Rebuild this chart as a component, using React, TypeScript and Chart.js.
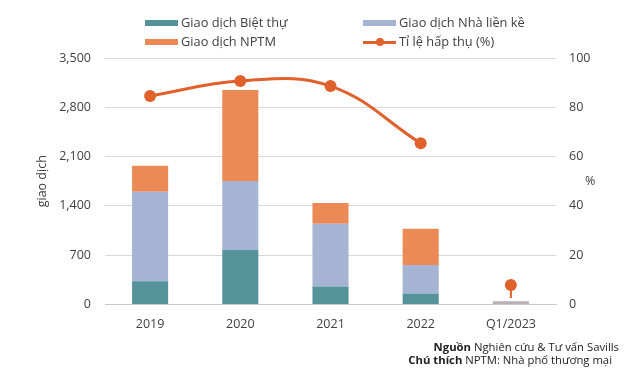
import React, { useEffect, useRef } from "react";
import { Chart, registerables } from "chart.js";

Chart.register(...registerables);

const categories = ["2019", "2020", "2021", "2022", "Q1/2023"];
const villaDeals = [330, 775, 255, 155, 0];
const townhouseDeals = [1270, 980, 890, 405, 45];
const shophouseDeals = [370, 1290, 295, 515, 0];
const absorptionLine = [84.6, 90.7, 88.6, 65.4, null];
const absorptionQ1 = [null, null, null, null, 7.9];
const leftMax = 3500;
const leftStep = 700;
const rightMax = 100;
const rightStep = 20;

const TEAL = "#55939a";
const BLUE = "#a4b4d2";
const ORANGE = "#ec8a55";
const LINE = "#e0612b";
const GRAY_BAR = "#b9b0b5";
const TEXT = "#404040";
const FONT = "'Open Sans', 'Noto Sans', sans-serif";

const pinStem = {
  id: "pinStem",
  afterDatasetsDraw(chart: any) {
    const idx = chart.data.datasets.findIndex((d: any) => d.label === "q1pin");
    if (idx < 0) return;
    const meta = chart.getDatasetMeta(idx);
    const ctx = chart.ctx;
    meta.data.forEach((pt: any, i: number) => {
      if (absorptionQ1[i] == null) return;
      const { x, y } = pt.getProps(["x", "y"], true);
      ctx.save();
      ctx.strokeStyle = LINE;
      ctx.lineWidth = 2;
      ctx.beginPath();
      ctx.moveTo(x, y + 4);
      ctx.lineTo(x, y + 13);
      ctx.stroke();
      ctx.restore();
    });
  },
};

export default function App() {
  const ref = useRef<HTMLCanvasElement | null>(null);

  useEffect(() => {
    document.body.style.margin = "0";
    if (!ref.current) return;
    const chart = new Chart(ref.current, {
      type: "bar",
      data: {
        labels: categories,
        datasets: [
          {
            type: "line",
            label: "Tỉ lệ hấp thụ (%)",
            data: absorptionLine,
            yAxisID: "y1",
            borderColor: LINE,
            backgroundColor: LINE,
            borderWidth: 3,
            pointRadius: 6,
            pointHoverRadius: 6,
            pointBackgroundColor: LINE,
            pointBorderWidth: 0,
            tension: 0.4,
            spanGaps: false,
            order: 0,
          } as any,
          {
            type: "line",
            label: "q1pin",
            data: absorptionQ1,
            yAxisID: "y1",
            borderColor: LINE,
            backgroundColor: LINE,
            borderWidth: 0,
            showLine: false,
            pointRadius: 6,
            pointBackgroundColor: LINE,
            pointBorderWidth: 0,
            order: 0,
          } as any,
          {
            label: "Giao dịch Biệt thự",
            data: villaDeals,
            backgroundColor: TEAL,
            yAxisID: "y",
            stack: "s",
            order: 1,
          },
          {
            label: "Giao dịch Nhà liền kề",
            data: townhouseDeals,
            backgroundColor: categories.map((c) => (c.startsWith("Q") ? GRAY_BAR : BLUE)),
            yAxisID: "y",
            stack: "s",
            order: 1,
          },
          {
            label: "Giao dịch NPTM",
            data: shophouseDeals,
            backgroundColor: ORANGE,
            yAxisID: "y",
            stack: "s",
            order: 1,
          },
        ],
      },
      options: {
        animation: false,
        responsive: false,
        maintainAspectRatio: false,
        layout: { padding: { top: 58, bottom: 0, left: 0, right: 0 } },
        datasets: { bar: { barPercentage: 0.4, categoryPercentage: 1 } } as any,
        plugins: {
          legend: { display: false },
          tooltip: { enabled: false },
        },
        scales: {
          x: {
            stacked: true,
            grid: { display: false, drawTicks: false },
            border: { display: true, color: "#c8c8c8", width: 1 },
            ticks: { color: TEXT, font: { family: FONT, size: 12.5 }, padding: 12 },
            afterFit: (s: any) => {
              s.height = 66.5;
            },
          },
          y: {
            stacked: true,
            position: "left",
            min: 0,
            max: leftMax,
            ticks: {
              stepSize: leftStep,
              color: TEXT,
              font: { family: FONT, size: 12.5 },
              padding: 14,
              callback: (v: any) => Number(v).toLocaleString("en-US"),
            },
            grid: { color: "#d9d9d9", lineWidth: 1, drawTicks: false },
            border: { display: false },
            title: {
              display: true,
              text: "giao dịch",
              color: TEXT,
              font: { family: FONT, size: 12.5 },
              padding: { top: 35, bottom: 0 },
            },
            afterFit: (s: any) => {
              s.width = 105;
            },
          },
          y1: {
            position: "right",
            min: 0,
            max: rightMax,
            ticks: {
              stepSize: rightStep,
              color: TEXT,
              font: { family: FONT, size: 12.5 },
              padding: 13,
            },
            grid: { display: false, drawTicks: false },
            border: { display: false },
            afterFit: (s: any) => {
              s.width = 77;
            },
          },
        },
      } as any,
      plugins: [pinStem],
    });
    return () => chart.destroy();
  }, []);

  const legendText: React.CSSProperties = {
    position: "absolute",
    fontFamily: FONT,
    fontSize: 12.8,
    color: TEXT,
    lineHeight: "16px",
    whiteSpace: "nowrap",
  };
  const box = (x: number, y: number, color: string): React.CSSProperties => ({
    position: "absolute",
    left: x,
    top: y,
    width: 33,
    height: 6,
    background: color,
  });
  const foot: React.CSSProperties = {
    position: "absolute",
    fontFamily: FONT,
    fontSize: 11.3,
    lineHeight: "13px",
    color: "#222",
    whiteSpace: "nowrap",
  };

  return (
    <div style={{ position: "fixed", left: 0, top: 0, width: 633, height: 371, background: "#fff" }}>
      <canvas ref={ref} width={633} height={371} style={{ position: "absolute", left: 0, top: 0 }} />
      <div style={box(145, 20, TEAL)} />
      <div style={{ ...legendText, left: 181, top: 14 }}>Giao dịch Biệt thự</div>
      <div style={box(363, 20, BLUE)} />
      <div style={{ ...legendText, left: 399, top: 14 }}>Giao dịch Nhà liền kề</div>
      <div style={box(145, 39, ORANGE)} />
      <div style={{ ...legendText, left: 181, top: 33 }}>Giao dịch NPTM</div>
      <div style={{ position: "absolute", left: 363, top: 40.5, width: 33, height: 3, background: LINE }} />
      <div style={{ position: "absolute", left: 376, top: 38, width: 8, height: 8, borderRadius: 4, background: LINE }} />
      <div style={{ ...legendText, left: 399, top: 33 }}>Tỉ lệ hấp thụ (%)</div>
      <div style={{ ...legendText, left: 585, top: 173, fontSize: 12.5 }}>%</div>
      <div style={{ ...foot, right: 14, top: 340 }}>
        <b>Nguồn</b> Nghiên cứu &amp; Tư vấn Savills
      </div>
      <div style={{ ...foot, right: 21, top: 353 }}>
        <b>Chú thích</b> NPTM: Nhà phố thương mại
      </div>
    </div>
  );
}
